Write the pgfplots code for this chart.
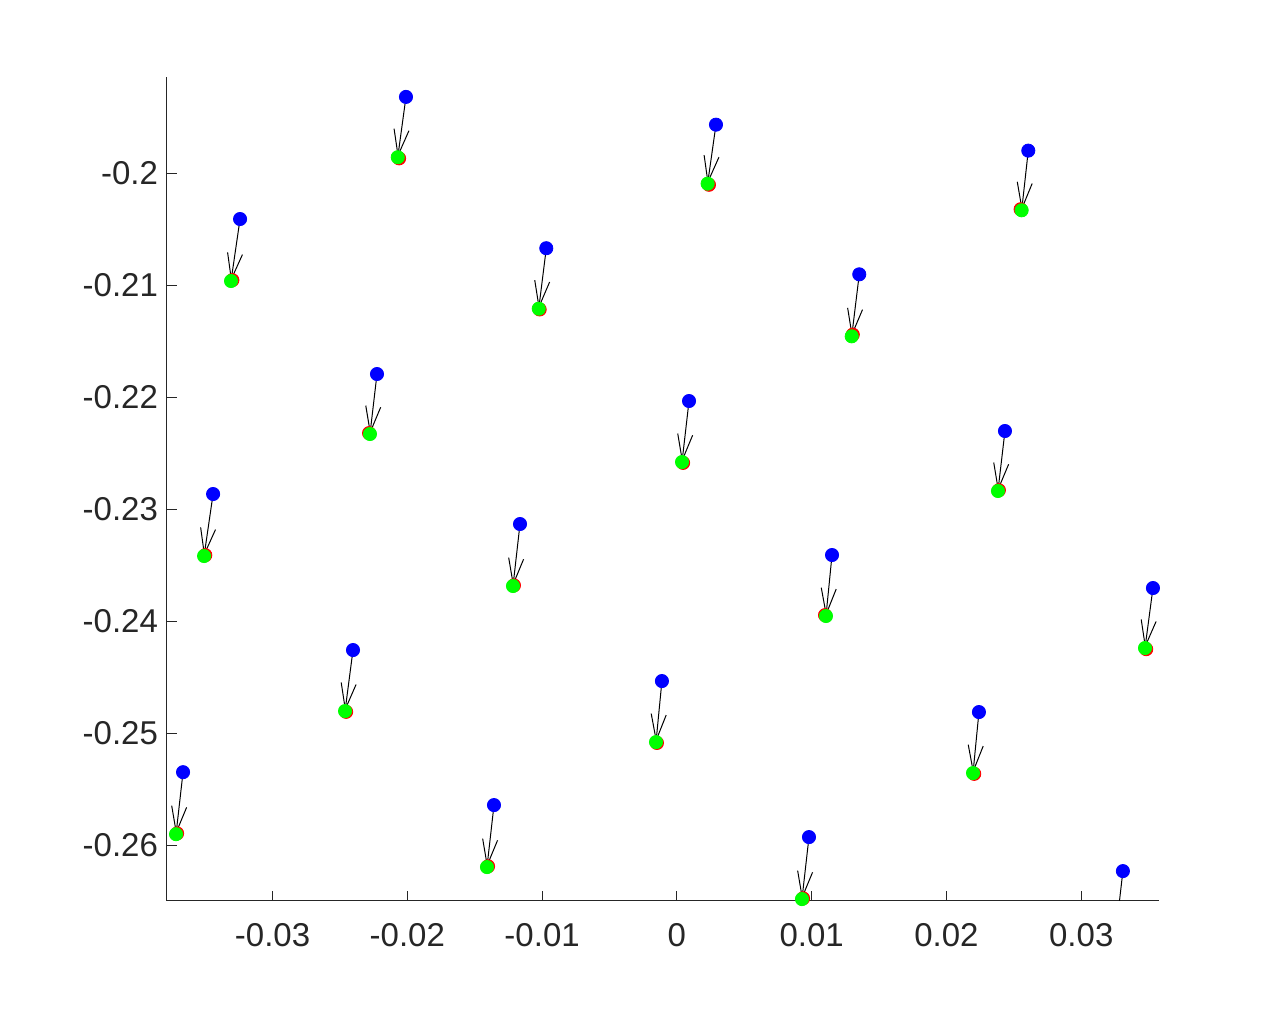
\documentclass[border=0pt]{standalone}
\usepackage{pgfplots}
\pgfplotsset{compat=1.18}
\usepackage{pgfplotstable}
\usepackage{fontspec}
\setmainfont{Liberation Sans}
\usetikzlibrary{arrows.meta}
\definecolor{axgray}{HTML}{262626}
\definecolor{mblue}{RGB}{0,0,255}
\definecolor{mgreen}{RGB}{0,255,0}
\definecolor{mred}{RGB}{255,0,0}

% start (blue), displacement to end (green)
\pgfplotstableread{
x y u v
-0.02010 -0.19316 -0.00061 -0.00539
0.00290 -0.19564 -0.00062 -0.00527
0.02607 -0.19796 -0.00049 -0.00533
-0.03241 -0.20407 -0.00067 -0.00554
-0.00969 -0.20668 -0.00056 -0.00540
0.01353 -0.20901 -0.00056 -0.00554
-0.02225 -0.21792 -0.00052 -0.00536
0.00090 -0.22033 -0.00052 -0.00545
0.02434 -0.22301 -0.00052 -0.00536
-0.03441 -0.22864 -0.00067 -0.00554
-0.01164 -0.23132 -0.00052 -0.00554
0.01151 -0.23409 -0.00045 -0.00545
0.03532 -0.23704 -0.00059 -0.00536
-0.02403 -0.24258 -0.00059 -0.00545
-0.00111 -0.24535 -0.00044 -0.00545
0.02241 -0.24812 -0.00044 -0.00545
-0.03664 -0.25349 -0.00052 -0.00554
-0.01357 -0.25643 -0.00052 -0.00554
0.00980 -0.25929 -0.00052 -0.00554
0.03309 -0.26233 -0.00052 -0.00545
}\quivtab

\pgfplotstableread{
x y
-0.02071 -0.19855
0.00228 -0.20091
0.02558 -0.20329
-0.03308 -0.20961
-0.01025 -0.21208
0.01297 -0.21455
-0.02277 -0.22328
0.00038 -0.22578
0.02382 -0.22837
-0.03508 -0.23418
-0.01216 -0.23686
0.01106 -0.23954
0.03473 -0.24240
-0.02462 -0.24803
-0.00155 -0.25080
0.02197 -0.25357
-0.03716 -0.25903
-0.01409 -0.26197
0.00928 -0.26483
}\greentab

\pgfplotstableread{
x y
-0.02061 -0.19865
0.00238 -0.20101
0.02550 -0.20320
-0.03298 -0.20953
-0.01018 -0.21215
0.01305 -0.21440
-0.02284 -0.22320
0.00046 -0.22586
0.02389 -0.22830
-0.03499 -0.23410
-0.01209 -0.23680
0.01099 -0.23946
0.03482 -0.24250
-0.02454 -0.24810
-0.00148 -0.25088
0.02206 -0.25364
-0.03708 -0.25896
-0.01401 -0.26190
0.00936 -0.26476
}\redtab

\begin{document}
\begin{tikzpicture}
\useasboundingbox (-83.5pt,-57pt) rectangle (558pt,450.5pt);
\begin{axis}[
  at={(0,0)}, anchor=south west,
  scale only axis, width=496pt, height=412pt,
  xmin=-0.03783, xmax=0.03577,
  ymin=-0.2650, ymax=-0.19138,
  axis x line=bottom, axis y line=left,
  axis line style={-, axgray, line width=0.5pt},
  tick align=inside, major tick length=5pt,
  tick style={axgray, line width=0.5pt},
  xtick={-0.03,-0.02,-0.01,0,0.01,0.02,0.03},
  xticklabels={-0.03,-0.02,-0.01,0,0.01,0.02,0.03},
  ytick={-0.26,-0.25,-0.24,-0.23,-0.22,-0.21,-0.2},
  yticklabels={-0.26,-0.25,-0.24,-0.23,-0.22,-0.21,-0.2},
  scaled ticks=false,
  ticklabel style={font=\fontsize{16.5}{19}\selectfont, text=axgray},
  xticklabel style={yshift=-7.5pt},
  yticklabel style={xshift=-1pt},
  clip=true,
]
\addplot[quiver={u=\thisrow{u}, v=\thisrow{v}}, black, line width=0.5pt,
  -{Straight Barb[length=13pt, width=7.5pt, line width=0.5pt]}]
  table[x=x, y=y] {\quivtab};
\addplot[only marks, mark=*, mark size=3.3pt, mred, mark options={draw=mred, fill=mred}]
  table[x=x, y=y] {\redtab};
\addplot[only marks, mark=*, mark size=3.3pt, mgreen, mark options={draw=mgreen, fill=mgreen}]
  table[x=x, y=y] {\greentab};
\addplot[only marks, mark=*, mark size=3.3pt, mblue, mark options={draw=mblue, fill=mblue}]
  table[x=x, y=y] {\quivtab};
\end{axis}
\end{tikzpicture}
\end{document}
